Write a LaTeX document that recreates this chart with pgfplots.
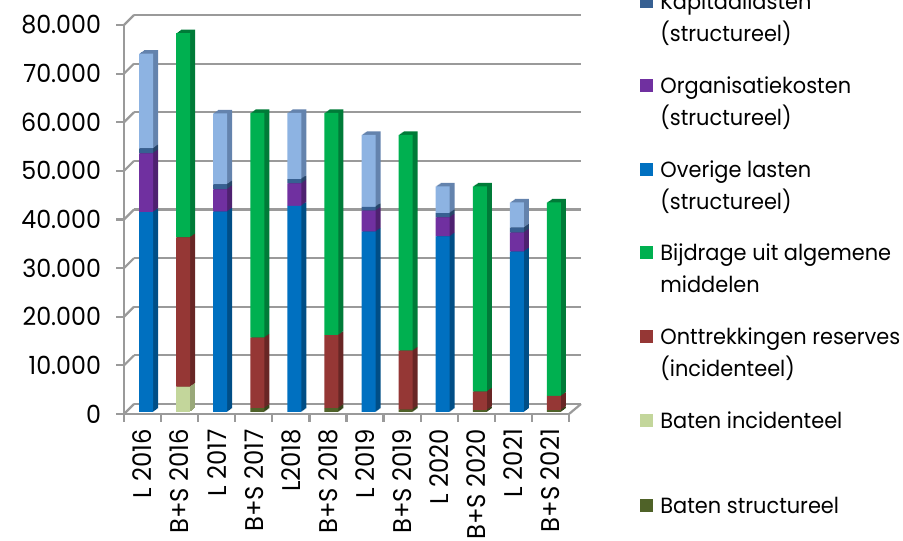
\documentclass[border=0pt]{standalone}
\usepackage{pgfplots}
\pgfplotsset{compat=1.18}
\usepackage{pgfplotstable}
\usepackage{fontspec}
\setmainfont{Poppins}[FakeStretch=0.95]
\newcommand\fs{\fontsize{11}{13}\selectfont}
\newcommand\ts{\fontsize{12.5}{14}\selectfont}
\newcommand\xs{\fontsize{12.8}{15}\selectfont}

% front colours and darker side colours
\definecolor{cLb}{HTML}{8DB3E2}\definecolor{dLb}{HTML}{6483AD}
\definecolor{cKap}{HTML}{376092}\definecolor{dKap}{HTML}{274569}
\definecolor{cOrg}{HTML}{7030A0}\definecolor{dOrg}{HTML}{4E2170}
\definecolor{cOve}{HTML}{0070C0}\definecolor{dOve}{HTML}{004E86}
\definecolor{cBij}{HTML}{00B050}\definecolor{dBij}{HTML}{007B38}
\definecolor{cOnt}{HTML}{953735}\definecolor{dOnt}{HTML}{682625}
\definecolor{cBinc}{HTML}{C3D69B}\definecolor{dBinc}{HTML}{99A879}
\definecolor{cBstr}{HTML}{4F6228}\definecolor{dBstr}{HTML}{37441C}
\definecolor{gridc}{HTML}{9A9A9A}

\pgfplotstableread{
x  bstr binc ontt  bijd  over  org   kap  lb
0  0    0    0     0     41100 12100 1000 19500
1  0    5200 30700 42000 0     0     0    0
2  0    0    0     0     41200 4600  1000 14600
3  800  0    14500 46200 0     0     0    0
4  0    0    0     0     42400 4600  900  13600
5  800  0    15000 45700 0     0     0    0
6  0    0    0     0     37100 4300  800  14800
7  500  0    12100 44400 0     0     0    0
8  0    0    0     0     36100 3900  900  5500
9  400  0    3800  42200 0     0     0    0
10 0    0    0     0     33000 3900  1000 5200
11 400  0    2900  39800 0     0     0    0
}\data

\pgfplotsset{
  baraxis/.style={anchor=south west, scale only axis, width=222.5pt, height=194.5pt,
    xmin=-0.5, xmax=11.5, ymin=0, ymax=80000, hide axis, ybar stacked, bar width=7pt,
    every axis plot/.append style={draw=none}},
}
% #1 = c (front) or d (side)
\newcommand\stackbars[1]{%
  \addplot[fill=#1Bstr] table[x=x,y=bstr]{\data};
  \addplot[fill=#1Binc] table[x=x,y=binc]{\data};
  \addplot[fill=#1Ont]  table[x=x,y=ontt]{\data};
  \addplot[fill=#1Bij]  table[x=x,y=bijd]{\data};
  \addplot[fill=#1Ove]  table[x=x,y=over]{\data};
  \addplot[fill=#1Org]  table[x=x,y=org]{\data};
  \addplot[fill=#1Kap]  table[x=x,y=kap]{\data};
  \addplot[fill=#1Lb]   table[x=x,y=lb]{\data};
}

\begin{document}
\begin{tikzpicture}[font=\fs]

% back wall grid
\begin{axis}[anchor=south west, at={(67pt,68pt)}, scale only axis,
  width=223.5pt, height=194.5pt, xmin=0, xmax=1, ymin=0, ymax=80000,
  axis line style={draw=none}, xtick=\empty, ytick={0,10000,...,80000},
  yticklabels={}, major tick length=0pt, ymajorgrids, scaled y ticks=false,
  grid style={draw=gridc, line width=1.1pt}]
\addplot[draw=none] coordinates {(0,0)};
\end{axis}

% front axis with ticks and labels
\begin{axis}[anchor=south west, at={(62pt,63pt)}, scale only axis,
  width=222.5pt, height=194.5pt, xmin=-0.5, xmax=11.5, ymin=0, ymax=80000,
  axis x line=bottom, axis y line=left, scaled y ticks=false,
  axis line style={-, draw=gridc, line width=1.1pt},
  tick align=outside, major tick length=4pt,
  ytick={0,10000,...,80000}, ytick style={draw=gridc, line width=1.1pt},
  xtick={0,...,11}, xtick style={draw=none},
  xticklabels={L 2016,B+S 2016,L 2017,B+S 2017,L2018,B+S 2018,L 2019,B+S 2019,L 2020,B+S 2020,L 2021,B+S 2021},
  x tick label style={rotate=90, anchor=east, font=\xs},
  y tick label style={font=\ts, xshift=-4pt},
  /pgf/number format/.cd, 1000 sep={.}, assume math mode=true]
\addplot[draw=none] coordinates {(0,0)};
\end{axis}

\begin{scope}[x=0.5pt,y=0.5pt]
% left wall and floor edges
\foreach \k in {0,...,8} \draw[gridc, line width=1.1pt] (124,{126+48.625*\k}) -- ++(10,10);
\draw[gridc, line width=1.1pt] (569,126) -- (581,136);
\foreach \i in {0,...,12} \draw[gridc, line width=1.1pt] ({124+37.083*\i},126) -- ++(0,-8);
\end{scope}

% bars: darker extrusion first, then front faces
\foreach \k in {5,4,3,2,1} {
  \begin{axis}[baraxis, at={({63.75pt+\k*0.5pt},{64pt+\k*0.35pt})}]
  \stackbars{d}
  \end{axis}
}
\begin{axis}[baraxis, at={(63.75pt,64pt)}]
\stackbars{c}
\end{axis}

% legend
\begin{scope}[x=0.5pt,y=0.5pt]
\newcommand\entry[4]{%
  \fill[#1] (640,{540-#2-6.5}) rectangle ++(13,13);
  \node[anchor=base west, inner sep=0] at (660,{540-#2-8}) {#3};
  \node[anchor=base west, inner sep=0] at (660,{540-#2-40}) {#4};
}
\entry{cKap}{2}{Kapitaallasten}{(structureel)}
\entry{cOrg}{86}{Organisatiekosten}{(structureel)}
\entry{cOve}{170}{Overige lasten}{(structureel)}
\entry{cBij}{253}{Bijdrage uit algemene}{middelen}
\entry{cOnt}{337}{Onttrekkingen reserves}{(incidenteel)}
\entry{cBinc}{421}{Baten incidenteel}{}
\entry{cBstr}{505}{Baten structureel}{}
\end{scope}

\pgfresetboundingbox
\useasboundingbox (0,0) rectangle (451.5pt,270pt);
\end{tikzpicture}
\end{document}
